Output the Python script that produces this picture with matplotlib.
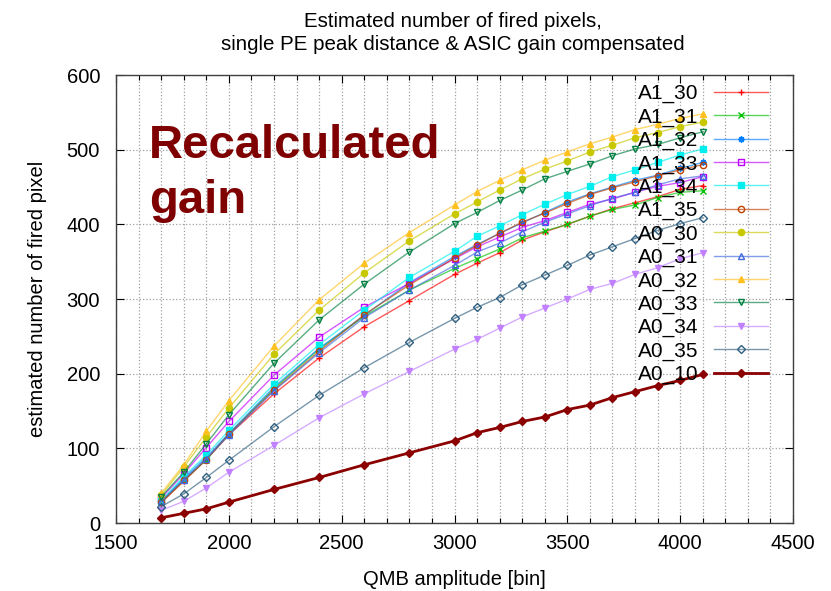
import matplotlib
matplotlib.use("Agg")
import matplotlib.pyplot as plt
from matplotlib.ticker import MultipleLocator

# QMB amplitude points (same for every channel)
qmb_bins = [1700, 1800, 1900, 2000, 2200, 2400, 2600, 2800, 3000, 3100,
            3200, 3300, 3400, 3500, 3600, 3700, 3800, 3900, 4000, 4100]

a1_30 = [27, 56, 85, 118, 173, 221, 263, 298, 333, 348, 362, 379, 390, 400, 411, 421, 429, 437, 447, 452]
a1_31 = [28, 57, 85, 119, 180, 233, 277, 312, 341, 354, 367, 382, 391, 400, 411, 420, 426, 436, 443, 445]
a1_32 = [29, 60, 88, 120, 182, 234, 278, 322, 357, 373, 388, 402, 416, 430, 441, 450, 459, 466, 475, 483]
a1_33 = [33, 66, 101, 136, 198, 249, 289, 321, 354, 370, 383, 396, 405, 416, 427, 434, 443, 451, 456, 464]
a1_34 = [30, 62, 91, 124, 186, 239, 285, 329, 364, 384, 398, 413, 427, 440, 451, 464, 473, 483, 493, 501]
a1_35 = [28, 57, 85, 119, 178, 230, 279, 319, 355, 372, 388, 403, 415, 428, 440, 449, 457, 465, 473, 480]
a0_30 = [37, 75, 115, 154, 226, 285, 335, 378, 414, 430, 446, 461, 474, 485, 497, 506, 516, 523, 531, 537]
a0_31 = [29, 58, 86, 118, 177, 228, 275, 312, 345, 363, 375, 390, 403, 414, 425, 435, 443, 453, 461, 465]
a0_32 = [40, 78, 123, 164, 237, 299, 348, 389, 426, 444, 459, 473, 486, 497, 508, 517, 527, 534, 542, 548]
a0_33 = [35, 68, 106, 145, 214, 272, 320, 363, 401, 416, 432, 446, 461, 471, 481, 492, 501, 507, 516, 524]
a0_34 = [17, 29, 47, 68, 104, 141, 173, 203, 233, 246, 261, 276, 288, 300, 313, 321, 333, 342, 354, 362]
a0_35 = [22, 39, 61, 84, 129, 171, 208, 242, 274, 289, 302, 319, 332, 345, 359, 370, 381, 392, 401, 409]
a0_10 = [7, 13, 19, 28, 45, 61, 78, 94, 110, 121, 128, 136, 142, 152, 158, 168, 176, 184, 191, 199]

channel_names = ["A1_30", "A1_31", "A1_32", "A1_33", "A1_34", "A1_35",
                 "A0_30", "A0_31", "A0_32", "A0_33", "A0_34", "A0_35", "A0_10"]
channel_values = [a1_30, a1_31, a1_32, a1_33, a1_34, a1_35,
                  a0_30, a0_31, a0_32, a0_33, a0_34, a0_35, a0_10]

# gnuplot-like default colours and point types
colors = ["#ff0000", "#00c000", "#0080ff", "#c000ff", "#00eeee", "#c04000",
          "#c8c800", "#4169e1", "#ffc020", "#008040", "#c080ff", "#306080", "#8b0000"]
markers = ["+", "x", (8, 2, 0), "s", "s", "o", "o", "^", "^", "v", "v", "D", "D"]
filled = [True, True, True, False, True, False, True, False, True, False, True, False, True]

plt.rcParams['font.family'] = ['Liberation Sans', 'DejaVu Sans']


def draw_chart():
    fig = plt.figure(figsize=(8.31, 5.91), dpi=100)
    ax = fig.add_axes([0.1396, 0.115, 0.8147, 0.758])

    for name, vals, col, mk, fill in zip(channel_names, channel_values, colors, markers, filled):
        rgba = matplotlib.colors.to_rgba(col, 0.65)
        lw = 1.0
        ms = 4.5
        if name == "A0_10":
            rgba = col
            lw = 2.0
        ax.plot(qmb_bins, vals, color=rgba, lw=lw, marker=mk, markersize=ms,
                markeredgecolor=col, markerfacecolor=col if fill else 'none',
                markeredgewidth=1.0, label=name)

    ax.set_xlim(1500, 4500)
    ax.set_ylim(0, 600)
    ax.xaxis.set_major_locator(MultipleLocator(500))
    ax.xaxis.set_minor_locator(MultipleLocator(100))
    ax.yaxis.set_major_locator(MultipleLocator(100))
    ax.tick_params(which='both', direction='in', top=True, right=True, labelsize=14.5)
    ax.tick_params(axis='x', pad=8)
    ax.tick_params(axis='y', pad=11.5)
    ax.tick_params(which='major', length=6, width=0.8)
    ax.tick_params(which='minor', length=3.5, width=0.8)

    ax.grid(which='minor', axis='x', linestyle=':', color='#a0a0a0', lw=0.9)
    ax.grid(which='major', axis='both', linestyle=':', color='#a0a0a0', lw=0.9)
    ax.set_axisbelow(True)
    for sp in ax.spines.values():
        sp.set_color('#404040')
        sp.set_linewidth(1.0)

    ax.set_xlabel('QMB amplitude [bin]', fontsize=14.5, labelpad=12)
    ax.set_ylabel('estimated number of fired pixel', fontsize=14.5, labelpad=14)

    # baseline of the second title line
    fig.text(0.545, 1 - 49.5 / 591, 'Estimated number of fired pixels,\nsingle PE peak distance & ASIC gain compensated',
             ha='center', va='baseline', fontsize=14.8, linespacing=1.22)

    # baseline of the last line ("gain")
    fig.text(149 / 831, 1 - 213 / 591, 'Recalculated\ngain', fontsize=34, fontweight='bold',
             color='#7f0000', va='baseline', ha='left', linespacing=1.32)

    ax.legend(loc='upper right', bbox_to_anchor=(0.963, 0.98), frameon=False, markerfirst=False,
              fontsize=15, handlelength=2.6, handletextpad=0.75, labelspacing=0.2,
              borderpad=0, borderaxespad=0)

    fig.savefig("out.png", dpi=100)


if __name__ == '__main__':
    draw_chart()
